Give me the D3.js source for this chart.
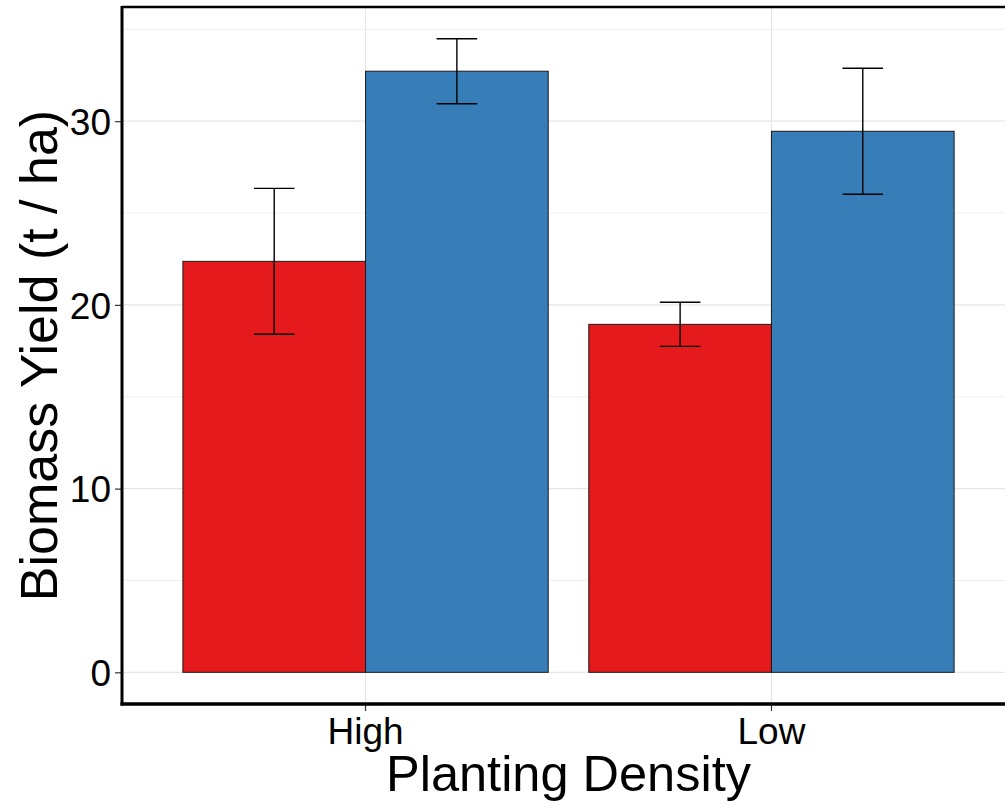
<!DOCTYPE html>
<html>
<head>
<meta charset="utf-8">
<script src="https://cdn.jsdelivr.net/npm/d3@7"></script>
<style>
  html, body { margin: 0; padding: 0; background: #fff; }
  svg { display: block; font-family: "Liberation Sans", Arial, sans-serif; }
</style>
</head>
<body>
<svg id="chart" width="1005" height="805"></svg>
<script>
// ---- data ----
const categories = ["High", "Low"];
const series = ["Group 1", "Group 2"];
const seriesColors = ["#E41A1C", "#377EB8"];
const meanGroup1 = [22.37, 18.94];
const meanGroup2 = [32.72, 29.45];
const seGroup1 = [3.97, 1.20];
const seGroup2 = [1.77, 3.43];
const yTicks = [0, 10, 20, 30];
const yMinorTicks = [5, 15, 25, 35];
const xTitle = "Planting Density";
const yTitle = "Biomass Yield (t / ha)";

(function () {
const rows = [];
categories.forEach((c, i) => {
  rows.push({cat: c, s: series[0], mean: meanGroup1[i], se: seGroup1[i]});
  rows.push({cat: c, s: series[1], mean: meanGroup2[i], se: seGroup2[i]});
});

// ---- layout ----
const pL = 122, pT = 7, pR = 1015, pB = 704;
const svg = d3.select("#chart");

const ymax = d3.max(rows, d => d.mean + d.se);
const y = d3.scaleLinear()
  .domain([-0.05 * ymax, ymax * 1.05])
  .range([pB, pT]);

const x = d3.scaleBand()
  .domain(categories)
  .range([pL, pR])
  .paddingInner(0)
  .paddingOuter(0.1);
const step = x.bandwidth();
const xSub = d3.scaleBand()
  .domain(series)
  .range([-0.45 * step, 0.45 * step]);
const color = d3.scaleOrdinal().domain(series).range(seriesColors);
const cx = c => x(c) + step / 2;

// panel background
svg.append("rect").attr("x", pL).attr("y", pT)
  .attr("width", pR - pL).attr("height", pB - pT).attr("fill", "#fff");

// grid
const grid = svg.append("g");
grid.selectAll(".minor").data(yMinorTicks).join("line")
  .attr("x1", pL).attr("x2", pR)
  .attr("y1", d => y(d)).attr("y2", d => y(d))
  .attr("stroke", "#ebebeb").attr("stroke-width", 0.8);
grid.selectAll(".major").data(yTicks).join("line")
  .attr("x1", pL).attr("x2", pR)
  .attr("y1", d => y(d)).attr("y2", d => y(d))
  .attr("stroke", "#e6e6e6").attr("stroke-width", 1.2);
grid.selectAll(".vmajor").data(categories).join("line")
  .attr("x1", d => cx(d)).attr("x2", d => cx(d))
  .attr("y1", pT).attr("y2", pB)
  .attr("stroke", "#e6e6e6").attr("stroke-width", 1.2);

// bars
svg.append("g").selectAll("rect").data(rows).join("rect")
  .attr("x", d => cx(d.cat) + xSub(d.s))
  .attr("width", xSub.bandwidth())
  .attr("y", d => y(d.mean))
  .attr("height", d => y(0) - y(d.mean))
  .attr("fill", d => color(d.s))
  .attr("stroke", "#1a1a1a").attr("stroke-width", 1);

// error bars
const capW = 0.1 * step;
const eb = svg.append("g").attr("stroke", "#000").attr("stroke-width", 1.4).attr("fill", "none");
rows.forEach(d => {
  const xc = cx(d.cat) + xSub(d.s) + xSub.bandwidth() / 2;
  eb.append("line").attr("x1", xc).attr("x2", xc)
    .attr("y1", y(d.mean + d.se)).attr("y2", y(d.mean - d.se));
  eb.append("line").attr("x1", xc - capW / 2).attr("x2", xc + capW / 2)
    .attr("y1", y(d.mean + d.se)).attr("y2", y(d.mean + d.se));
  eb.append("line").attr("x1", xc - capW / 2).attr("x2", xc + capW / 2)
    .attr("y1", y(d.mean - d.se)).attr("y2", y(d.mean - d.se));
});

// top border
svg.append("line").attr("x1", pL).attr("x2", pR)
  .attr("y1", pT).attr("y2", pT)
  .attr("stroke", "#000").attr("stroke-width", 2.5);

// y axis
const yAxis = d3.axisLeft(y).tickValues(yTicks).tickSize(7).tickPadding(4).tickFormat(d3.format("d"));
const gy = svg.append("g").attr("transform", `translate(${pL},0)`).call(yAxis);
gy.select(".domain").remove();
gy.selectAll(".tick line").attr("stroke", "#333").attr("stroke-width", 1.2);
gy.selectAll(".tick text").attr("font-size", 37).attr("fill", "#000")
  .attr("font-family", "Liberation Sans, Arial, sans-serif").attr("dy", "0.36em");

// x axis
const xAxis = d3.axisBottom(x).tickSize(7).tickPadding(4);
const gx = svg.append("g").attr("transform", `translate(0,${pB})`).call(xAxis);
gx.select(".domain").remove();
gx.selectAll(".tick line").attr("stroke", "#333").attr("stroke-width", 1.2);
gx.selectAll(".tick text").attr("font-size", 37).attr("fill", "#000")
  .attr("font-family", "Liberation Sans, Arial, sans-serif").attr("y", 40).attr("dy", 0);

// axis lines
svg.append("line").attr("x1", pL).attr("x2", pL)
  .attr("y1", pT - 1).attr("y2", pB + 1.5)
  .attr("stroke", "#000").attr("stroke-width", 3);
svg.append("line").attr("x1", pL - 1.5).attr("x2", pR)
  .attr("y1", pB).attr("y2", pB)
  .attr("stroke", "#000").attr("stroke-width", 3.5);

// titles
svg.append("text")
  .attr("x", (pL + pR) / 2).attr("y", 791)
  .attr("text-anchor", "middle").attr("font-size", 50.5).attr("fill", "#000")
  .text(xTitle);
svg.append("text")
  .attr("transform", `translate(57,${(pT + pB) / 2}) rotate(-90)`)
  .attr("text-anchor", "middle").attr("font-size", 52).attr("fill", "#000")
  .text(yTitle);
})();
</script>
</body>
</html>
